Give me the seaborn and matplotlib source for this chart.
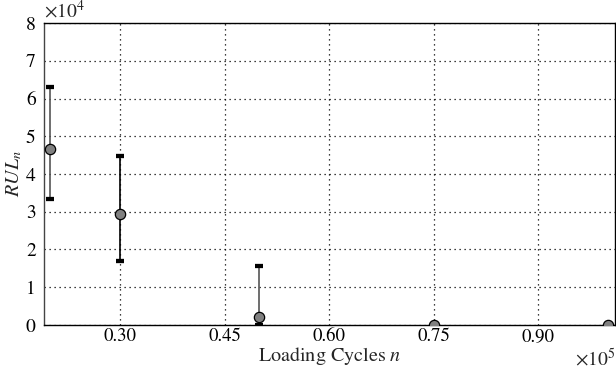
import seaborn as sns
import matplotlib.pyplot as plt
import pandas as pd
from matplotlib.ticker import FormatStrFormatter, MultipleLocator

# Data (x in units of 1e5 cycles, RUL in units of 1e4)
cycles = [0.20, 0.30, 0.50, 0.75, 1.00]
rul_mean = [4.66, 2.95, 0.22, 0.0, 0.0]
rul_upper = [6.30, 4.48, 1.57, 0.0, 0.0]
rul_lower = [3.34, 1.70, 0.0, 0.0, 0.0]
bar_colors = ["#555555", "black", "#555555", "black", "black"]

df = pd.DataFrame({"n": cycles, "rul": rul_mean,
                   "lo": rul_lower, "hi": rul_upper})

sns.set_style("white")
plt.rcParams["font.family"] = ["STIXGeneral", "Liberation Serif", "DejaVu Serif"]
plt.rcParams["mathtext.fontset"] = "stix"

fig = plt.figure(figsize=(6.16, 3.71), dpi=100)
ax = fig.add_axes([0.0714, 0.124, 0.927, 0.814])

# error bars
for i, row in df.iterrows():
    ax.errorbar(row["n"], row["rul"],
                yerr=[[row["rul"] - row["lo"]], [row["hi"] - row["rul"]]],
                fmt="none", ecolor=bar_colors[i], elinewidth=1.2,
                capsize=3, capthick=3, zorder=3)
    ax.errorbar(row["n"], row["rul"],
                yerr=[[row["rul"] - row["lo"]], [row["hi"] - row["rul"]]],
                fmt="none", ecolor="black", elinewidth=0,
                capsize=3, capthick=3, zorder=3)

sns.scatterplot(data=df, x="n", y="rul", ax=ax, color="#808080",
                edgecolor="black", linewidth=0.9, s=55, zorder=4)

ax.set_xlim(0.191, 1.01)
ax.set_ylim(0, 8)
ax.set_xticks([0.30, 0.45, 0.60, 0.75, 0.90])
ax.xaxis.set_major_formatter(FormatStrFormatter("%.2f"))
ax.yaxis.set_major_locator(MultipleLocator(1))
ax.yaxis.set_major_formatter(FormatStrFormatter("%d"))

ax.grid(True, color="black", linestyle=(0, (1, 3)), linewidth=0.9)
ax.set_axisbelow(True)
for sp in ax.spines.values():
    sp.set_color("black")
    sp.set_linewidth(1.0)
ax.spines["left"].set_color("#444444")
ax.tick_params(axis="both", length=0, labelsize=14, colors="black")
ax.tick_params(axis="x", pad=2, labelsize=13.5)
ax.tick_params(axis="y", pad=6)

ax.set_xlabel("Loading Cycles $n$", fontsize=14.5, labelpad=0)
ax.set_ylabel("$RUL_n$", fontsize=14.5, labelpad=1)

ax.text(0.0, 1.005, r"$\times\mathregular{10^4}$", transform=ax.transAxes,
        fontsize=14, ha="left", va="bottom")
ax.text(1.0, -0.075, r"$\times\mathregular{10^5}$", transform=ax.transAxes,
        fontsize=14, ha="right", va="top")

fig.savefig("out.png", dpi=100)
